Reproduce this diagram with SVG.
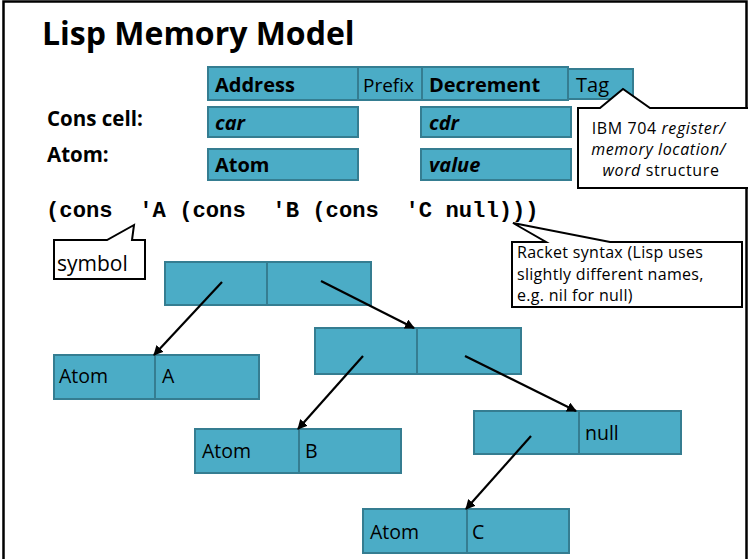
<svg xmlns="http://www.w3.org/2000/svg" width="748" height="559" viewBox="0 0 748 559">
<defs>
<style>
.box{fill:#4BACC6;stroke:#357D91;stroke-width:2}
.div{stroke:#357D91;stroke-width:2}
.t{font-family:"Open Sans","Noto Sans",sans-serif;fill:#000}
.b{font-weight:bold}
.bi{font-weight:bold;font-style:italic}
.code{font-family:"Liberation Mono","Courier New",monospace;font-weight:bold;font-size:22.2px}
.call{fill:#fff;stroke:#000;stroke-width:2}
.arr{stroke:#000;stroke-width:2.2;fill:none;marker-end:url(#ah)}
</style>
<marker id="ah" viewBox="0 0 10 10" refX="9" refY="5" markerWidth="4.5" markerHeight="4.5" orient="auto" markerUnits="strokeWidth">
<path d="M0,0 L10,5 L0,10 z" fill="#000"/>
</marker>
</defs>
<rect width="748" height="559" fill="#fff"/>
<path d="M3.5,560 L3.5,1.5 L746.5,1.5 L746.5,560" fill="none" stroke="#000" stroke-width="2.5"/>

<text class="t b" x="42" y="45" font-size="32">Lisp Memory Model</text>

<g id="legend-labels">
<text class="t b" x="47" y="126" font-size="20.5">Cons cell:</text>
<text class="t b" x="47" y="162" font-size="20.5">Atom:</text>
</g>

<g id="word-structure">
<rect class="box" x="208" y="67" width="150" height="33"/>
<text class="t b" x="215" y="92" font-size="20">Address</text>
<rect class="box" x="358" y="67" width="64" height="33"/>
<text class="t" x="363" y="92" font-size="19">Prefix</text>
<rect class="box" x="422" y="67" width="146" height="33"/>
<text class="t b" x="429" y="92" font-size="20">Decrement</text>
<rect class="box" x="568" y="69" width="65" height="30"/>
<text class="t" x="576" y="92" font-size="20">Tag</text>
</g>

<g id="cons-cell-format">
<rect class="box" x="208" y="107" width="150" height="30"/>
<text class="t bi" x="215" y="130" font-size="20">car</text>
<rect class="box" x="421" y="107" width="150" height="30"/>
<text class="t bi" x="429" y="130" font-size="20">cdr</text>
</g>

<g id="atom-format">
<rect class="box" x="208" y="149" width="150" height="31"/>
<text class="t b" x="215" y="172" font-size="20">Atom</text>
<rect class="box" x="421" y="149" width="150" height="31"/>
<text class="t bi" x="429" y="172" font-size="20">value</text>
</g>

<g id="ibm-callout">
<path class="call" d="M578,108 L600,108 L623,89 L650,108 L750,108 L750,188 L578,188 Z"/>
<text class="t" font-size="16" letter-spacing="0.6" text-anchor="middle">
<tspan x="661" y="134">IBM 704 <tspan font-style="italic">register/</tspan></tspan>
<tspan x="661" y="155" font-style="italic">memory location/</tspan>
<tspan x="661" y="176"><tspan font-style="italic">word</tspan> structure</tspan>
</text>
</g>

<text class="code" x="46" y="217" xml:space="preserve">(cons  'A (cons  'B (cons  'C null)))</text>

<g id="symbol-callout">
<path class="call" d="M54,240 L107,240 L134,225 L132,240 L145,240 L145,279 L54,279 Z"/>
<text class="t" x="57" y="271" font-size="21">symbol</text>
</g>

<g id="racket-callout">
<path class="call" d="M512,242 L546,242 L513,223 L610,242 L742,242 L742,307 L512,307 Z"/>
<text class="t" font-size="16" letter-spacing="0.3">
<tspan x="517" y="258">Racket syntax (Lisp uses</tspan>
<tspan x="517" y="280">slightly different names,</tspan>
<tspan x="517" y="301">e.g. nil for null)</tspan>
</text>
</g>

<g id="cell1">
<rect class="box" x="165" y="262" width="206" height="43"/>
<line class="div" x1="267" y1="262" x2="267" y2="305"/>
</g>
<g id="cell2">
<rect class="box" x="315" y="328" width="206" height="46"/>
<line class="div" x1="417" y1="328" x2="417" y2="374"/>
</g>
<g id="cell3">
<rect class="box" x="474" y="411" width="207" height="43"/>
<line class="div" x1="579" y1="411" x2="579" y2="454"/>
<text class="t" x="585" y="440" font-size="19.5">null</text>
</g>
<g id="atomA">
<rect class="box" x="54" y="355" width="205" height="44"/>
<line class="div" x1="155" y1="355" x2="155" y2="399"/>
<text class="t" x="59" y="383" font-size="19.5">Atom</text>
<text class="t" x="162" y="383" font-size="19.5">A</text>
</g>
<g id="atomB">
<rect class="box" x="195" y="429" width="206" height="44"/>
<line class="div" x1="299" y1="429" x2="299" y2="473"/>
<text class="t" x="202" y="458" font-size="19.5">Atom</text>
<text class="t" x="305" y="458" font-size="19.5">B</text>
</g>
<g id="atomC">
<rect class="box" x="363" y="509" width="206" height="44"/>
<line class="div" x1="467" y1="509" x2="467" y2="553"/>
<text class="t" x="370" y="539" font-size="19.5">Atom</text>
<text class="t" x="472" y="539" font-size="19.5">C</text>
</g>

<g id="connectors">
<line class="arr" x1="222" y1="282" x2="154" y2="355"/>
<line class="arr" x1="321" y1="281" x2="414" y2="328"/>
<line class="arr" x1="363" y1="356" x2="298" y2="429"/>
<line class="arr" x1="465" y1="356" x2="576" y2="411"/>
<line class="arr" x1="531" y1="436" x2="466" y2="509"/>
</g>
</svg>
